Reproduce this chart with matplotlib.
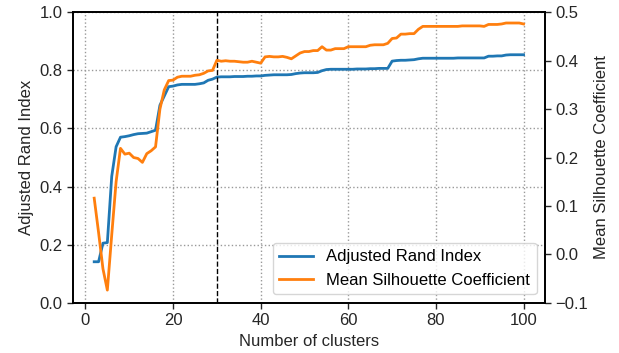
import matplotlib
matplotlib.use("Agg")
import matplotlib.pyplot as plt
import numpy as np

plt.rcParams['font.family'] = ['Liberation Sans', 'DejaVu Sans']

n_clusters = list(range(2, 101))

ari = [0.141, 0.141, 0.205, 0.207, 0.435, 0.537, 0.570, 0.572, 0.575, 0.579,
       0.582, 0.583, 0.584, 0.589, 0.594, 0.680, 0.712, 0.744, 0.746, 0.750,
       0.752, 0.752, 0.752, 0.752, 0.754, 0.757, 0.766, 0.770, 0.777, 0.778,
       0.778, 0.778, 0.779, 0.779, 0.779, 0.780, 0.780, 0.781, 0.781, 0.783,
       0.784, 0.785, 0.785, 0.785, 0.785, 0.786, 0.789, 0.791, 0.792, 0.792,
       0.792, 0.793, 0.799, 0.803, 0.804, 0.804, 0.804, 0.804, 0.804, 0.804,
       0.805, 0.805, 0.805, 0.806, 0.806, 0.807, 0.807, 0.807, 0.832, 0.834,
       0.835, 0.835, 0.836, 0.837, 0.840, 0.842, 0.842, 0.842, 0.842, 0.842,
       0.842, 0.842, 0.842, 0.843, 0.843, 0.843, 0.843, 0.843, 0.843, 0.843,
       0.849, 0.849, 0.850, 0.850, 0.853, 0.854, 0.854, 0.854, 0.854]

msc = [0.116, 0.045, -0.030, -0.074, 0.040, 0.150, 0.219, 0.207, 0.209, 0.200,
       0.198, 0.190, 0.208, 0.214, 0.222, 0.300, 0.340, 0.359, 0.360, 0.366,
       0.368, 0.368, 0.368, 0.370, 0.371, 0.374, 0.379, 0.380, 0.401, 0.399,
       0.400, 0.399, 0.399, 0.398, 0.397, 0.397, 0.399, 0.397, 0.395, 0.408,
       0.409, 0.408, 0.408, 0.409, 0.407, 0.404, 0.410, 0.416, 0.419, 0.419,
       0.421, 0.421, 0.429, 0.422, 0.422, 0.425, 0.425, 0.425, 0.429, 0.429,
       0.429, 0.429, 0.429, 0.432, 0.433, 0.433, 0.433, 0.436, 0.446, 0.447,
       0.455, 0.455, 0.456, 0.456, 0.465, 0.471, 0.471, 0.471, 0.471, 0.471,
       0.471, 0.471, 0.471, 0.471, 0.472, 0.472, 0.472, 0.472, 0.472, 0.471,
       0.475, 0.475, 0.475, 0.476, 0.478, 0.478, 0.478, 0.478, 0.476]

chosen_k = 30

fig = plt.figure(figsize=(6.19, 3.53), dpi=100)
ax = fig.add_axes([0.1175, 0.1425, 0.763, 0.8225])
ax2 = ax.twinx()

l1, = ax.plot(n_clusters, ari, color='#1f77b4', lw=2.0, label='Adjusted Rand Index')
l2, = ax2.plot(n_clusters, msc, color='#ff7f0e', lw=2.0, label='Mean Silhouette Coefficient')
ax.axvline(chosen_k, color='black', ls='--', lw=1.0)

ax.set_ylim(0, 1.0)
ax2.set_ylim(-0.1, 0.5)
ax.set_xticks([0, 20, 40, 60, 80, 100])
ax.set_yticks([0, 0.2, 0.4, 0.6, 0.8, 1.0])
ax2.set_yticks([-0.1, 0.0, 0.1, 0.2, 0.3, 0.4, 0.5])
ax.grid(True, ls=':', color='#999999', lw=1.0)
ax.set_axisbelow(True)

fs = 12
ax.set_xlabel('Number of clusters', fontsize=fs, color='#262626')
ax.set_ylabel('Adjusted Rand Index', fontsize=fs, color='#262626')
ax2.set_ylabel('Mean Silhouette Coefficient', fontsize=fs, color='#262626')
for a in (ax, ax2):
    a.tick_params(labelsize=fs, length=4, width=1, direction='out', colors='#262626')
    for s in a.spines.values():
        s.set_linewidth(1.25)
        s.set_color('black')

leg = ax2.legend(handles=[l1, l2], loc='lower right', fontsize=fs,
                 frameon=True, fancybox=True, edgecolor='#cccccc', framealpha=0.8)

fig.savefig('out.png', dpi=100)
